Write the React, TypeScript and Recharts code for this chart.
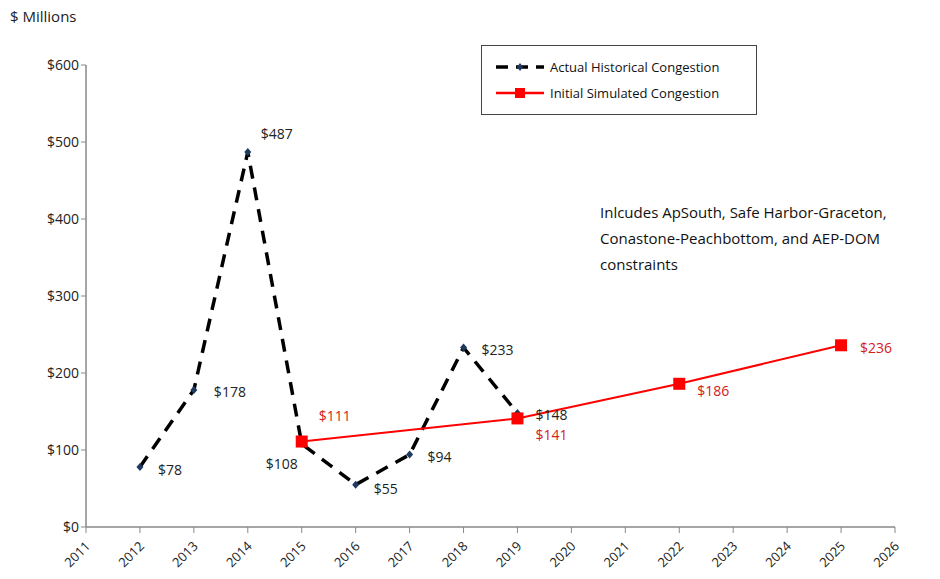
import React from 'react';
import {
  LineChart,
  Line,
  XAxis,
  YAxis,
} from 'recharts';

// values ($ millions)
const years = [2012, 2013, 2014, 2015, 2016, 2017, 2018, 2019, 2022, 2025];
const actualValues = [78, 178, 487, 108, 55, 94, 233, 148, null, null];
const simulatedValues = [null, null, null, 111, null, null, null, 141, 186, 236];
const xTicks = [2011, 2012, 2013, 2014, 2015, 2016, 2017, 2018, 2019, 2020, 2021, 2022, 2023, 2024, 2025, 2026];
const yTicks = [0, 100, 200, 300, 400, 500, 600];

const data = years.map((year, i) => ({
  year,
  actual: actualValues[i],
  simulated: simulatedValues[i],
}));

const FONT = '"Open Sans", "Noto Sans", sans-serif';

// label placement relative to each point [dx, dy, anchor]
const actualLabelPos: Record<number, [number, number, string]> = {
  2012: [18, 3, 'start'],
  2013: [20, 2, 'start'],
  2014: [13, -19, 'start'],
  2015: [-4, 20, 'end'],
  2016: [18, 4, 'start'],
  2017: [18, 2, 'start'],
  2018: [18, 2, 'start'],
  2019: [18, 1, 'start'],
};
const simLabelPos: Record<number, [number, number, string]> = {
  2015: [17, -26, 'start'],
  2019: [18, 16, 'start'],
  2022: [18, 7, 'start'],
  2025: [19, 2, 'start'],
};

const makeLabel = (pos: Record<number, [number, number, string]>, color: string) => (props: any) => {
  const { x, y, value, index } = props;
  if (value == null) return null;
  const p = pos[data[index].year] || [15, 0, 'start'];
  return (
    <text
      x={x + p[0]}
      y={y + p[1]}
      fill={color}
      fontSize={14}
      fontFamily={FONT}
      textAnchor={p[2]}
      dominantBaseline="central"
    >
      ${value}
    </text>
  );
};

const Diamond = (props: any) => {
  const { cx, cy, value } = props;
  if (value == null || cx == null) return null;
  return (
    <path
      d={`M${cx},${cy - 4} L${cx + 3.5},${cy} L${cx},${cy + 4} L${cx - 3.5},${cy} Z`}
      fill="#1f3a5f"
    />
  );
};

const Square = (props: any) => {
  const { cx, cy, value } = props;
  if (value == null || cx == null) return null;
  return <rect x={cx - 6} y={cy - 6} width={12} height={12} fill="#ff0000" />;
};

const YearTick = (props: any) => {
  const { x, y, payload } = props;
  return (
    <text
      x={x + 5}
      y={y + 12}
      transform={`rotate(-45, ${x + 5}, ${y + 12})`}
      textAnchor="end"
      fontSize={13}
      fontFamily={FONT}
      fill="#222"
    >
      {payload.value}
    </text>
  );
};

const LegendBox = () => (
  <div
    style={{
      position: 'absolute',
      left: 481,
      top: 45,
      border: '1.5px solid #444',
      width: 276,
      height: 70,
      boxSizing: 'border-box',
      fontFamily: FONT,
      fontSize: 13,
      color: '#111',
      padding: '8px 0 0 14px',
    }}
  >
    <div style={{ display: 'flex', alignItems: 'center', height: 26 }}>
      <svg width={48} height={10}>
        <line x1={0} y1={5} x2={48} y2={5} stroke="#000" strokeWidth={3.5} strokeDasharray="12 8" />
        <path d="M24,1 L27,5 L24,9 L21,5 Z" fill="#1f3a5f" />
      </svg>
      <span style={{ marginLeft: 6 }}>Actual Historical Congestion</span>
    </div>
    <div style={{ display: 'flex', alignItems: 'center', height: 26 }}>
      <svg width={48} height={12}>
        <line x1={0} y1={6} x2={48} y2={6} stroke="#ff0000" strokeWidth={2.5} />
        <rect x={19} y={1} width={10} height={10} fill="#ff0000" />
      </svg>
      <span style={{ marginLeft: 6 }}>Initial Simulated Congestion</span>
    </div>
  </div>
);

const App: React.FC = () => {
  return (
    <div style={{ position: 'fixed', left: 0, top: 0, width: 940, height: 579, background: '#fff' }}>
      <div
        style={{
          position: 'absolute',
          left: 10,
          top: 6,
          fontFamily: FONT,
          fontSize: 15,
          color: '#222',
        }}
      >
        $ Millions
      </div>
      <div
        style={{
          position: 'absolute',
          left: 600,
          top: 199,
          fontFamily: FONT,
          fontSize: 15,
          lineHeight: '26px',
          color: '#111',
        }}
      >
        Inlcudes ApSouth, Safe Harbor-Graceton,
        <br />
        Conastone-Peachbottom, and AEP-DOM
        <br />
        constraints
      </div>
      <LineChart
        width={940}
        height={579}
        data={data}
        margin={{ top: 65, right: 45, bottom: 7, left: 26 }}
      >
        <XAxis
          dataKey="year"
          type="number"
          domain={[2011, 2026]}
          ticks={xTicks}
          interval={0}
          height={45}
          tick={<YearTick />}
          axisLine={{ stroke: '#888', strokeWidth: 1.5 }}
          tickLine={{ stroke: '#888' }}
          tickSize={6}
        />
        <YAxis
          domain={[0, 600]}
          ticks={yTicks}
          width={60}
          tickFormatter={(v: number) => `$${v}`}
          tick={{ fontSize: 14, fontFamily: FONT, fill: '#222' }}
          axisLine={{ stroke: '#888', strokeWidth: 1.5 }}
          tickLine={{ stroke: '#888' }}
          tickSize={5}
        />
        <Line
          type="linear"
          dataKey="actual"
          stroke="#000"
          strokeWidth={3.5}
          strokeDasharray="13 9"
          dot={<Diamond />}
          activeDot={false}
          label={makeLabel(actualLabelPos, '#222')}
          isAnimationActive={false}
        />
        <Line
          type="linear"
          dataKey="simulated"
          stroke="#ff0000"
          strokeWidth={2}
          connectNulls
          dot={<Square />}
          activeDot={false}
          label={makeLabel(simLabelPos, '#d42020')}
          isAnimationActive={false}
        />
      </LineChart>
      <LegendBox />
    </div>
  );
};

export default App;
